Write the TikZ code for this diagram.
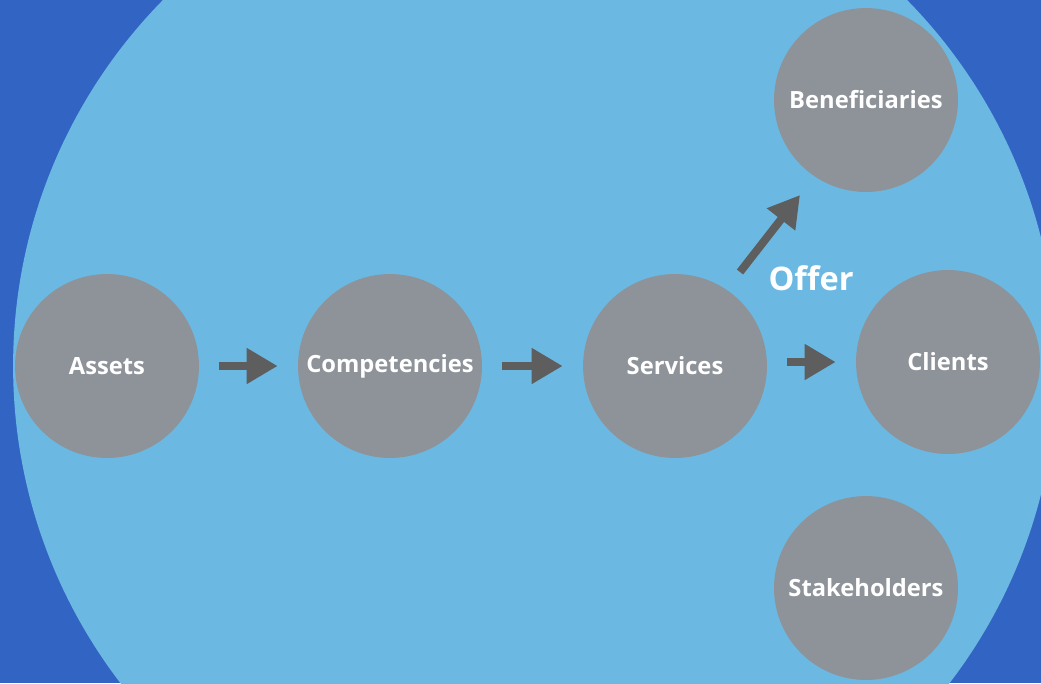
\documentclass[tikz,border=0pt]{standalone}
\usepackage{fontspec}
\setmainfont{Open Sans}
\usepackage{tikz}
\usetikzlibrary{arrows.meta}

\definecolor{bgblue}{HTML}{3265C3}
\definecolor{discblue}{HTML}{6BB9E2}
\definecolor{ballgray}{HTML}{8E9399}
\definecolor{arrowgray}{HTML}{5E5E5E}

\begin{document}
\begin{tikzpicture}[x=0.02cm, y=-0.02cm,
    every node/.style={circle, fill=ballgray, minimum size=3.68cm, inner sep=0pt, text=white, font=\bfseries\fontsize{13.5}{16}\selectfont},
    flow/.style={draw=arrowgray, line width=0.16cm, shorten <=0.4cm, shorten >=0.4cm, -{Triangle[length=0.62cm, width=0.68cm]}}]
    \useasboundingbox (0,0) rectangle (1041,683);
    \clip (0,0) rectangle (1041,683);
    \fill[bgblue] (0,0) rectangle (1041,683);
    \fill[discblue] (535,366) circle[radius=10.44cm];

    \node (assets) at (107,366) {Assets};
    \node (comp) at (390,366) {Competencies};
    \node (serv) at (675,366) {Services};
    \node (clients) at (948,362) {Clients};
    \node (benef) at (866,100) {Beneficiaries};
    \node (stake) at (866,588) {Stakeholders};
    \node[fill=none, minimum size=0pt, font=\bfseries\fontsize{18.5}{22}\selectfont] (offer) at (811,278) {Offer};
    \coordinate (offertail) at (740,272);
    \coordinate (offerhead) at (800,195);

    \draw[flow] (assets) -- (comp);
    \draw[flow] (comp) -- (serv);
    \draw[flow] (serv.east |- clients) -- (clients);
    \draw[flow, shorten <=0pt, shorten >=0pt] (offertail) -- (offerhead);
\end{tikzpicture}
\end{document}
